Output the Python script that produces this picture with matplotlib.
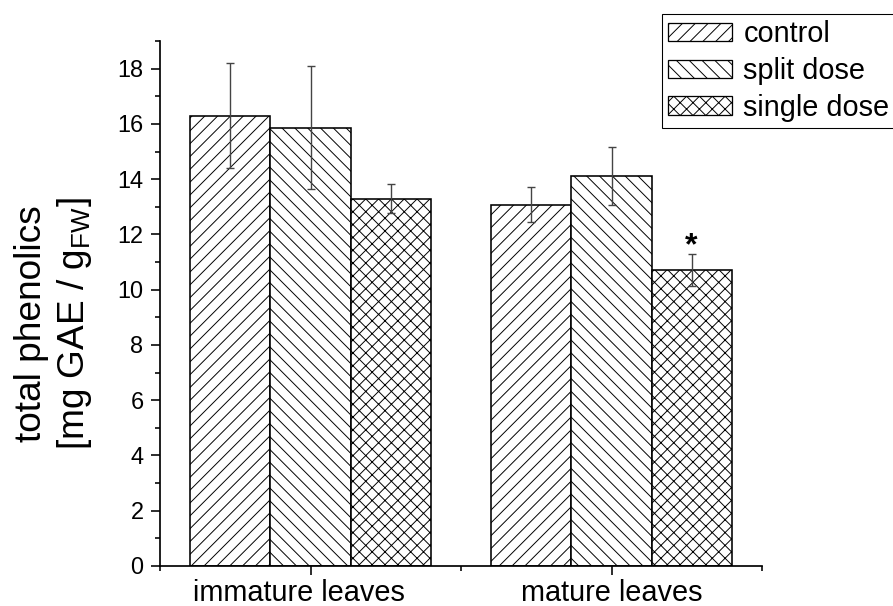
#!/usr/bin/env python3
"""Total phenolics in immature and mature leaves, hatched bar chart."""

import matplotlib

matplotlib.use("Agg")

import matplotlib.pyplot as plt
from matplotlib.patches import Patch
from matplotlib.ticker import FixedLocator, MultipleLocator
from matplotlib.transforms import ScaledTranslation

CATEGORIES = ["immature leaves", "mature leaves"]
TREATMENTS = ["control", "split dose", "single dose"]
MEANS = {
    "control": [16.30, 13.08],
    "split dose": [15.86, 14.13],
    "single dose": [13.30, 10.71],
}
ERRORS = {
    "control": [1.90, 0.64],
    "split dose": [2.23, 1.05],
    "single dose": [0.53, 0.57],
}
# significance marks: (category index, treatment)
SIGNIFICANT = [(1, "single dose")]

HATCHES = {"control": "//", "split dose": "\\\\", "single dose": "xx"}
DPI = 77
BAR_WIDTH = 0.266


def make_plot(out_path="out.png"):
    plt.rcParams["font.family"] = ["Liberation Sans", "DejaVu Sans"]
    plt.rcParams["mathtext.fontset"] = "custom"
    plt.rcParams["mathtext.rm"] = "Liberation Sans"
    plt.rcParams["mathtext.it"] = "Liberation Sans:italic"
    plt.rcParams["hatch.linewidth"] = 0.9
    plt.rcParams["hatch.color"] = "black"

    fig = plt.figure(figsize=(893 / DPI, 606 / DPI), dpi=DPI)
    ax = fig.add_axes([160 / 893, 1 - 566 / 606, 602 / 893, 525 / 606])

    centers = list(range(1, len(CATEGORIES) + 1))
    for k, name in enumerate(TREATMENTS):
        xs = [c + (k - 1) * BAR_WIDTH for c in centers]
        ax.bar(
            xs,
            MEANS[name],
            width=BAR_WIDTH,
            facecolor="white",
            edgecolor="black",
            linewidth=1.5,
            hatch=HATCHES[name],
            zorder=2,
        )
        ax.errorbar(
            xs,
            MEANS[name],
            yerr=ERRORS[name],
            fmt="none",
            ecolor="#444444",
            elinewidth=1.3,
            capsize=4.2,
            capthick=1.3,
            zorder=3,
        )

    for cat, name in SIGNIFICANT:
        k = TREATMENTS.index(name)
        x = centers[cat] + (k - 1) * BAR_WIDTH
        y = MEANS[name][cat] + ERRORS[name][cat] + 0.0
        ax.text(x, y, "*", ha="center", va="baseline", fontsize=30,
                fontweight="bold")

    ax.set_xlim(0.5, 2.5)
    ax.set_ylim(0, 19)
    ax.set_xticks(centers)
    ax.set_xticklabels(CATEGORIES, fontsize=27)
    ax.xaxis.set_minor_locator(FixedLocator([0.5, 1.5, 2.5]))
    ax.yaxis.set_major_locator(MultipleLocator(2))
    ax.yaxis.set_minor_locator(MultipleLocator(1))
    ax.tick_params(axis="y", which="major", labelsize=22, length=8.5,
                   width=1.5, pad=7)
    ax.tick_params(axis="x", which="major", length=8, width=1.5, pad=4)
    ax.tick_params(which="minor", length=4.5, width=1.5)
    for side in ("top", "right"):
        ax.spines[side].set_visible(False)
    for side in ("left", "bottom"):
        ax.spines[side].set_linewidth(1.6)

    # the original puts the first category label slightly left of its tick;
    # done after tick_params, which would reset the label transform
    first = ax.xaxis.get_major_ticks()[0].label1
    first.set_transform(
        first.get_transform() + ScaledTranslation(-12 / DPI, 0, fig.dpi_scale_trans)
    )

    fig.text(
        54 / 893,
        1 - 324 / 606,
        "total phenolics\n[mg GAE / g$_{\\mathrm{FW}}$]",
        rotation=90,
        ha="center",
        va="center",
        multialignment="center",
        fontsize=34.6,
        linespacing=1.2,
    )

    handles = [
        Patch(facecolor="white", edgecolor="black", linewidth=1.2,
              hatch=HATCHES[name], label=name)
        for name in TREATMENTS
    ]
    fig.legend(
        handles=handles,
        loc="upper left",
        bbox_to_anchor=(662 / 893, 1 - 14 / 606),
        borderaxespad=0,
        borderpad=0.22,
        fontsize=27,
        handlelength=2.2,
        handleheight=0.6,
        handletextpad=0.4,
        labelspacing=0.3,
        frameon=True,
        fancybox=False,
        edgecolor="black",
        framealpha=1,
    ).get_frame().set_linewidth(1.0)

    fig.savefig(out_path, dpi=DPI)
    plt.close(fig)


if __name__ == "__main__":
    make_plot()
